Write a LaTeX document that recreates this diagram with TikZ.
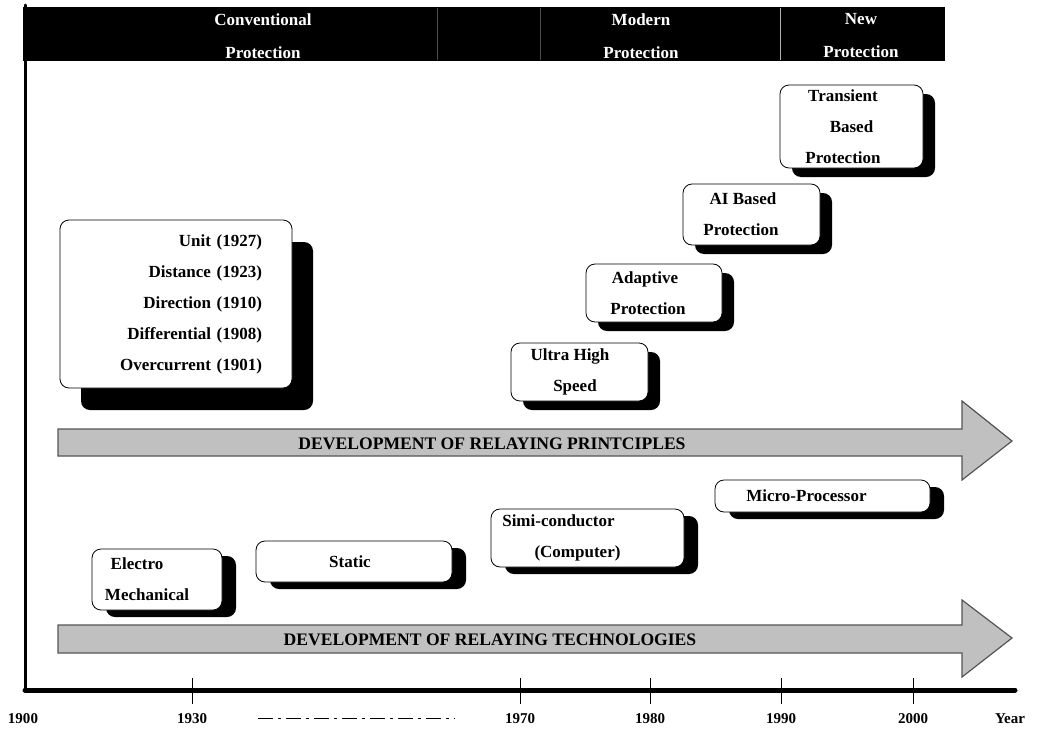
\documentclass[tikz,border=0pt]{standalone}
\usepackage{fontspec}
\setmainfont{Liberation Serif}
\usepackage{tikz}
\usetikzlibrary{shadows}
\definecolor{ArrowFill}{RGB}{192,192,192}
\definecolor{ArrowLine}{RGB}{85,85,85}
\definecolor{BarLine}{RGB}{70,80,70}
\tikzstyle{Box}=[rectangle,rounded corners=9pt,draw=black,thick,fill=white,
align=center,inner sep=0pt,font=\fontsize{17}{31}\selectfont\bfseries]
\tikzstyle{ShadowBig}=[drop shadow={shadow xshift=21pt,shadow yshift=-22pt,
fill=black,opacity=1}]
\tikzstyle{ShadowUp}=[drop shadow={shadow xshift=12pt,shadow yshift=-9pt,
fill=black,opacity=1}]
\tikzstyle{ShadowLow}=[drop shadow={shadow xshift=14pt,shadow yshift=-7pt,
fill=black,opacity=1}]
\tikzstyle{BarText}=[text=white,align=center,inner sep=0pt,
font=\fontsize{17}{33}\selectfont\bfseries]
\tikzstyle{ArrowText}=[inner sep=0pt,font=\fontsize{17.6}{20}\selectfont\bfseries]
\tikzstyle{YearText}=[inner sep=0pt,font=\fontsize{15}{18}\selectfont\bfseries]
\tikzstyle{BigArrow}=[fill=ArrowFill,draw=ArrowLine,line width=1.2pt,line join=miter]
% right padding, pushes a centred line to the left
\newcommand{\Pad}[1]{\hspace*{#1pt}}

\begin{document}
\begin{tikzpicture}[x=1pt,y=-1pt]
        \useasboundingbox (0,0) rectangle (1038,728);
        % period bar
        \fill[black] (23,7) rectangle (945,61);
        \draw[BarLine,very thin] (437,8) -- (437,60);
        \draw[BarLine,very thin] (540,8) -- (540,60);
        \draw[gray!60,very thin] (780,8) -- (780,60);
        \node[BarText](conv)at(263,36){Conventional\\Protection};
        \node[BarText](modern)at(641,36){Modern\\Protection};
        \node[BarText](new)at(861,36){New\\Protection};
        % axes
        \coordinate(O)at(25,690);
        \coordinate(top)at(25,5);
        \coordinate(end)at(1015,690);
        \draw[line width=3pt,line cap=round](top)--(O);
        \draw[line width=5pt,line cap=round](O)--(end);
        \draw[thick](192,678)--(192,704);
        \draw[thick](520,678)--(520,704);
        \draw[thick](650,678)--(650,704);
        \draw[thick](781,678)--(781,704);
        \draw[thick](913,678)--(913,704);
        \node[YearText](y1900)at(23,719){1900};
        \node[YearText](y1930)at(192,719){1930};
        \node[YearText](y1970)at(520,719){1970};
        \node[YearText](y1980)at(650,719){1980};
        \node[YearText](y1990)at(781,719){1990};
        \node[YearText](y2000)at(913,719){2000};
        \node[YearText](year)at(1010,719){Year};
        \draw[thick,dash pattern=on 15pt off 5pt on 3pt off 5pt](258,718)--(455,718);
        % development arrows
        \draw[BigArrow](58,429)--(962,429)--(962,401)--(1012,441)--(962,480)
            --(962,456)--(58,456)--cycle;
        \node[ArrowText](principles)at(492,444){DEVELOPMENT OF RELAYING PRINTCIPLES};
        \draw[BigArrow](58,625)--(962,625)--(962,600)--(1012,638)--(962,677)
            --(962,653)--(58,653)--cycle;
        \node[ArrowText](technologies)at(490,640){DEVELOPMENT OF RELAYING TECHNOLOGIES};
        % principles
        \node[Box,ShadowBig,text width=172pt,inner xsep=30pt,minimum height=168pt,
            align=right](relays)at(176,304){Unit (1927)\\Distance (1923)\Pad{8}\\
            Direction (1910)\Pad{19}\\Differential (1908)\Pad{16}\\
            Overcurrent (1901)\Pad{15}};
        \node[Box,ShadowUp,minimum width=137pt,minimum height=58pt](ultra)
            at(579.5,372){Ultra High\Pad{19}\\Speed\Pad{9}};
        \node[Box,ShadowUp,minimum width=136pt,minimum height=58pt](adaptive)
            at(654,293){Adaptive\Pad{18}\\Protection\Pad{12}};
        \node[Box,ShadowUp,minimum width=137pt,minimum height=61pt](ai)
            at(751.5,214.5){AI Based\Pad{17}\\Protection\Pad{21}};
        \node[Box,ShadowUp,minimum width=143pt,minimum height=83pt](transient)
            at(851.5,126.5){Transient\Pad{17}\\Based\Pad{13}\\Protection\Pad{17}};
        % technologies
        \node[Box,ShadowLow,minimum width=130pt,minimum height=61pt](electro)
            at(157,579.5){Electro\Pad{40}\\Mechanical\Pad{20}};
        \node[Box,ShadowLow,minimum width=196pt,minimum height=41pt](static)
            at(354,561.5){Static\Pad{8}};
        \node[Box,ShadowLow,minimum width=193pt,minimum height=58pt](simi)
            at(587.5,538){Simi-conductor\Pad{58}\\(Computer)\Pad{20}};
        \node[Box,ShadowLow,minimum width=215pt,minimum height=32pt](micro)
            at(822.5,496){Micro-Processor\Pad{32}};
    \end{tikzpicture}
\end{document}
